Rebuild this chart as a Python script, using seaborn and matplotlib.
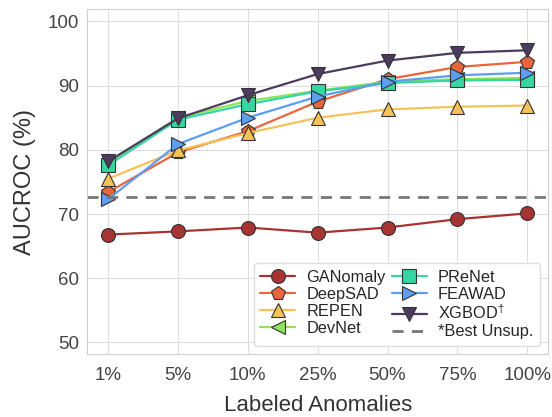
import pandas as pd
import seaborn as sns
import matplotlib.pyplot as plt

# --- data ---
ratios = ['1%', '5%', '10%', '25%', '50%', '75%', '100%']
ganomaly = [66.8, 67.3, 67.9, 67.1, 67.9, 69.2, 70.1]
deepsad = [73.4, 79.6, 82.9, 87.5, 91.0, 92.9, 93.7]
repen = [75.5, 79.9, 82.6, 85.0, 86.3, 86.7, 86.9]
devnet = [78.0, 85.0, 87.6, 89.2, 90.6, 91.0, 91.2]
prenet = [77.6, 84.7, 87.1, 89.1, 90.4, 90.8, 90.9]
feawad = [72.3, 80.9, 85.0, 88.3, 90.6, 91.6, 92.0]
xgbod = [78.2, 84.9, 88.5, 91.8, 93.9, 95.1, 95.5]
best_unsup = 72.6

methods = ['GANomaly', 'DeepSAD', 'REPEN', 'DevNet', 'PReNet', 'FEAWAD', r'XGBOD$^{\dagger}$']
values = [ganomaly, deepsad, repen, devnet, prenet, feawad, xgbod]
colors = ['#a83333', '#e8653d', '#f4c257', '#8fe35a', '#36d6a2', '#5c9ef0', '#4b3b5e']
markers = ['o', 'p', '^', '<', 's', '>', 'v']

sns.set_style('whitegrid', {'grid.color': '#dddddd', 'axes.edgecolor': '#d0d0d0'})
plt.rcParams['font.family'] = ['Liberation Sans', 'DejaVu Sans']
plt.rcParams['mathtext.fontset'] = 'custom'
plt.rcParams['mathtext.rm'] = 'Liberation Sans'

fig, ax = plt.subplots(figsize=(5.52, 4.17), dpi=100)
fig.subplots_adjust(left=0.158, right=0.993, top=0.978, bottom=0.151)

for name, vals, col, mk in zip(methods, values, colors, markers):
    df = pd.DataFrame({'ratio': ratios, 'auc': vals})
    sns.lineplot(data=df, x='ratio', y='auc', ax=ax, color=col, marker=mk,
                 markersize=10, markeredgecolor='#333333', markeredgewidth=0.8,
                 linewidth=1.6, label=name, sort=False)

ax.axhline(best_unsup, color='#777777', linestyle='--', linewidth=2,
           dashes=(4, 3), label='*Best Unsup.')

ax.set_xlim(-0.3, 6.3)
ax.set_ylim(48.2, 101.9)
ax.set_yticks([50, 60, 70, 80, 90, 100])
ax.set_xlabel('Labeled Anomalies', fontsize=16, color='#333333', labelpad=8)
ax.set_ylabel('AUCROC (%)', fontsize=17, color='#333333', labelpad=8)
ax.tick_params(labelsize=13.5, colors='#444444', length=0)
ax.tick_params(axis='x', pad=9)
ax.tick_params(axis='y', pad=6)

ax.legend(ncol=2, loc='lower right', fontsize=11.8, labelspacing=0.12,
          handletextpad=0.7, columnspacing=0.4, handlelength=2.1,
          borderaxespad=0.5, borderpad=0.4, framealpha=1, edgecolor='#dddddd')

plt.savefig('out.png', dpi=100)
